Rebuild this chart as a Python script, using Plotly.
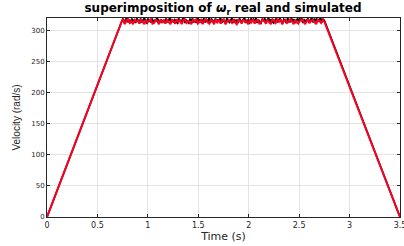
import numpy as np
import plotly.graph_objects as go

# Speed profile: linear ramp-up, noisy plateau, linear ramp-down
t_start, t_plat_start, t_plat_end, t_end = 0.0, 0.74, 2.75, 3.5

real_plateau = [314, 319, 312, 317, 320, 313, 316, 312, 319, 314, 317, 312, 319, 316, 312, 319,
                313, 317, 320, 314, 312, 318, 316, 313, 319, 312, 317, 314, 320, 316, 312, 318,
                313, 317, 312, 319, 314, 316, 320, 312, 318, 313, 317, 314, 312, 319, 316, 313,
                318, 320, 312, 317, 314, 312, 318, 316, 319, 313, 317, 312, 320, 314, 318, 312,
                316, 319, 313, 317, 314, 320, 312, 318, 316, 312, 319, 313, 317, 316, 320, 312,
                318, 314, 312, 319, 317, 313, 316, 320, 312, 318, 314, 317, 312, 319, 316, 313,
                318, 320, 312, 317, 314, 312, 319, 316, 318, 313, 320, 312, 317, 314, 312, 318,
                316, 319, 313, 317, 320, 312, 318, 314, 312, 316, 319, 313, 317, 320, 314, 312,
                318, 316, 312, 319, 317, 313, 320, 314, 318, 312, 316, 319, 313, 317, 320, 312,
                318, 314, 316, 319, 312, 317, 320, 313, 318, 316, 319, 314, 317, 320, 313, 318, 316]
sim_plateau = [314, 317, 310, 316, 318, 312, 315, 310, 317, 314, 316, 311, 318, 314, 310, 317,
               313, 316, 318, 311, 312, 317, 315, 310, 318, 313, 316, 311, 317, 314, 310, 317,
               315, 311, 318, 313, 317, 310, 316, 318, 312, 315, 314, 310, 317, 315, 318, 311,
               314, 317, 310, 316, 318, 313, 311, 317, 315, 310, 318, 313, 317, 311, 316, 318,
               310, 314, 317, 315, 312, 318, 313, 310, 317, 316, 311, 318, 314, 315, 310, 317,
               313, 318, 311, 316, 317, 310, 314, 318, 315, 311, 317, 313, 310, 318, 316, 312,
               317, 314, 318, 310, 315, 317, 312, 314, 318, 315, 310, 317, 313, 311, 318, 316,
               317, 310, 314, 318, 312, 316, 317, 313, 310, 318, 315, 312, 317, 314]

x_ticks = [0, 0.5, 1, 1.5, 2, 2.5, 3, 3.5]
y_ticks = [0, 50, 100, 150, 200, 250, 300]


def profile(plateau):
    t = [t_start] + list(np.linspace(t_plat_start, t_plat_end, len(plateau))) + [t_end]
    w = [0.0] + list(plateau) + [0.0]
    return t, w


t_real, w_real = profile(real_plateau)
t_sim, w_sim = profile(sim_plateau)

fig = go.Figure()
fig.add_trace(go.Scatter(x=t_real, y=w_real, mode="lines",
                         line=dict(color="#000000", width=1.8, simplify=False), name="real"))
fig.add_trace(go.Scatter(x=t_sim, y=w_sim, mode="lines",
                         line=dict(color="#ff0022", width=2.0, simplify=False), name="simulated"))

sans = "Liberation Sans, Arial, sans-serif"
wide = "DejaVu Sans, sans-serif"
fig.update_layout(
    width=404, height=246,
    margin=dict(l=47, r=4, t=18, b=29, autoexpand=False),
    paper_bgcolor="white", plot_bgcolor="white",
    showlegend=False,
    title=dict(text="<b>superimposition of <i>ω</i><sub>r</sub> real and simulated</b>",
               x=0.552, xanchor="center", y=0.985, yanchor="top",
               font=dict(family=wide, size=12, color="#000000")),
    font=dict(family=sans, size=8, color="#262626"),
)
fig.update_xaxes(range=[0, 3.5], tickvals=x_ticks, ticktext=[str(v) for v in x_ticks],
                 showgrid=True, gridcolor="#e3e3e3", gridwidth=1,
                 showline=True, linecolor="#262626", linewidth=1, mirror="ticks",
                 ticks="inside", ticklen=3, tickcolor="#262626", zeroline=False,
                 ticklabeloverflow="allow", automargin=False,
                 tickfont=dict(family=wide, size=8, color="#262626"),
                 title=dict(text="Time (s)", standoff=2,
                            font=dict(family=wide, size=11, color="#262626")))
fig.update_yaxes(range=[0, 320], tickvals=y_ticks, ticktext=[str(v) for v in y_ticks],
                 showgrid=True, gridcolor="#e3e3e3", gridwidth=1,
                 showline=True, linecolor="#262626", linewidth=1, mirror="ticks",
                 ticks="inside", ticklen=3, tickcolor="#262626", zeroline=False,
                 automargin=False,
                 tickfont=dict(family=wide, size=7, color="#262626"),
                 title=dict(text="Velocity (rad/s)", standoff=8,
                            font=dict(family=sans, size=10, color="#262626")))

fig.write_html("out.html", config={"displayModeBar": False, "staticPlot": True},
               post_script="document.body.style.margin='0';document.body.style.overflow='hidden';")
